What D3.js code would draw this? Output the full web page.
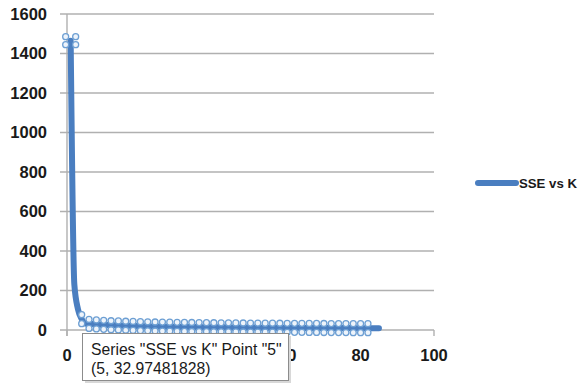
<!DOCTYPE html>
<html>
<head>
<meta charset="utf-8">
<script src="https://cdn.jsdelivr.net/npm/d3@7/dist/d3.min.js"></script>
<style>
  html, body { margin: 0; padding: 0; background: #ffffff; }
  svg { display: block; }
</style>
</head>
<body>
<svg id="chart" width="584" height="384"></svg>
<script>
// Number of clusters K and the sum of squared errors for each
const kValues = [
  1, 2, 3, 4, 5, 6, 7, 8, 9, 10,
  11, 12, 13, 14, 15, 16, 17, 18, 19, 20,
  21, 22, 23, 24, 25, 26, 27, 28, 29, 30,
  31, 32, 33, 34, 35, 36, 37, 38, 39, 40,
  41, 42, 43, 44, 45, 46, 47, 48, 49, 50,
  51, 52, 53, 54, 55, 56, 57, 58, 59, 60,
  61, 62, 63, 64, 65, 66, 67, 68, 69, 70,
  71, 72, 73, 74, 75, 76, 77, 78, 79, 80,
  81, 82, 83, 84, 85
];
const sseValues = [
  1465, 230, 105, 55, 32.97481828, 31, 30, 28, 27, 26,
  25, 24, 23.5, 23, 22, 21.5, 21, 20.5, 20, 19.5,
  19, 18.6, 18.2, 17.8, 17.5, 17.2, 16.9, 16.6, 16.3, 16,
  15.8, 15.5, 15.3, 15.1, 14.9, 14.7, 14.5, 14.3, 14.1, 13.9,
  13.8, 13.6, 13.4, 13.3, 13.1, 13, 12.8, 12.7, 12.5, 12.4,
  12.3, 12.1, 12, 11.9, 11.8, 11.6, 11.5, 11.4, 11.3, 11.2,
  11.1, 11, 10.9, 10.8, 10.7, 10.6, 10.5, 10.4, 10.3, 10.2,
  10.1, 10, 9.9, 9.8, 9.7, 9.6, 9.5, 9.4, 9.3, 9.2,
  9.1, 9, 8.9, 8.8, 8.7
];
const seriesName = "SSE vs K";
const xTicks = [0, 20, 40, 60, 80, 100];
const yTicks = [0, 200, 400, 600, 800, 1000, 1200, 1400, 1600];
// Points that carry selection handles
const handleK = [1, 4, 6, 8, 10, 12, 14, 16, 18, 20, 22, 24, 26, 28, 30, 32, 34, 36, 38, 40,
  42, 44, 46, 48, 50, 52, 54, 56, 58, 60, 62, 64, 66, 68, 70, 72, 74, 76, 78, 80, 82];
const tipPoint = 5;

const data = kValues.map((k, i) => ({ k, v: sseValues[i] }));

const svg = d3.select("#chart");
const x = d3.scaleLinear().domain([0, 100]).range([67, 434]);
const y = d3.scaleLinear().domain([0, 1600]).range([330, 14]);

const gridColor = "#b0b0b0";
const lineColor = "#4a7ec0";
const labelFont = "'Liberation Sans', Arial, sans-serif";

// Data tip box (drawn last, but its extent is needed to skip covered labels)
const tipBox = { x: 82.5, y: 333.5, w: 206, h: 47 };

// Horizontal gridlines (with short ticks to the left of the axis)
svg.append("g")
  .selectAll("line")
  .data(yTicks)
  .join("line")
  .attr("x1", x(0) - 7)
  .attr("x2", x(100))
  .attr("y1", d => y(d))
  .attr("y2", d => y(d))
  .attr("stroke", gridColor)
  .attr("stroke-width", 1.4);

// Vertical axis line
svg.append("line")
  .attr("x1", x(0)).attr("x2", x(0))
  .attr("y1", y(1600)).attr("y2", y(0) + 6)
  .attr("stroke", gridColor)
  .attr("stroke-width", 1.4);

// X axis tick marks
svg.append("g")
  .selectAll("line")
  .data(xTicks)
  .join("line")
  .attr("x1", d => x(d)).attr("x2", d => x(d))
  .attr("y1", y(0)).attr("y2", y(0) + 6)
  .attr("stroke", gridColor)
  .attr("stroke-width", 1.4);

// Y tick labels
svg.append("g")
  .selectAll("text")
  .data(yTicks)
  .join("text")
  .attr("x", 47)
  .attr("y", d => y(d))
  .attr("dy", "0.36em")
  .attr("text-anchor", "end")
  .attr("font-family", labelFont)
  .attr("font-weight", "bold")
  .attr("font-size", 16.5)
  .attr("fill", "#1a1a1a")
  .text(d => d);

// X tick labels; those lying under the data tip are hidden by it
const visibleXLabels = xTicks.filter(d => {
  const cx = x(d);
  return cx < tipBox.x || cx > tipBox.x + tipBox.w;
});
svg.append("g")
  .selectAll("text")
  .data(visibleXLabels)
  .join("text")
  .attr("x", d => x(d))
  .attr("y", 361)
  .attr("text-anchor", "middle")
  .attr("font-family", labelFont)
  .attr("font-weight", "bold")
  .attr("font-size", 16.5)
  .attr("fill", "#1a1a1a")
  .text(d => d);

// A label straddling the tip's right edge only shows the part outside it
svg.append("defs").append("clipPath").attr("id", "peek")
  .append("rect")
  .attr("x", tipBox.x + tipBox.w + 1).attr("y", 340)
  .attr("width", 30).attr("height", 30);
svg.append("g")
  .attr("clip-path", "url(#peek)")
  .selectAll("text")
  .data(xTicks.filter(d => x(d) <= tipBox.x + tipBox.w && x(d) > tipBox.x + tipBox.w - 12))
  .join("text")
  .attr("x", d => x(d))
  .attr("y", 361)
  .attr("text-anchor", "middle")
  .attr("font-family", labelFont)
  .attr("font-weight", "bold")
  .attr("font-size", 16.5)
  .attr("fill", "#1a1a1a")
  .text(d => d);

// Series line
const line = d3.line()
  .x(d => x(d.k))
  .y(d => y(d.v))
  .curve(d3.curveMonotoneX);

svg.append("path")
  .datum(data)
  .attr("d", line)
  .attr("fill", "none")
  .attr("stroke", lineColor)
  .attr("stroke-width", 6)
  .attr("stroke-linecap", "round")
  .attr("stroke-linejoin", "round");

// Selection handles around the selected series points
const handleData = [];
handleK.forEach(k => {
  const d = data.find(p => p.k === k);
  const offsets = k === 1
    ? [[-5, -4], [5, -4], [-5, 4], [5, 4]]
    : [[0, -4.5], [0, 4.5]];
  offsets.forEach(o => handleData.push({ d, o }));
});

svg.append("g")
  .selectAll("circle")
  .data(handleData)
  .join("circle")
  .attr("cx", h => x(h.d.k) + h.o[0])
  .attr("cy", h => y(h.d.v) + h.o[1])
  .attr("r", 3)
  .attr("fill", "#eef4fb")
  .attr("stroke", "#6d9fd3")
  .attr("stroke-width", 1.3);

// Legend
const legend = svg.append("g");
legend.append("line")
  .attr("x1", 478).attr("x2", 516)
  .attr("y1", 183).attr("y2", 183)
  .attr("stroke", lineColor)
  .attr("stroke-width", 6)
  .attr("stroke-linecap", "round");
legend.append("text")
  .attr("x", 519)
  .attr("y", 188)
  .attr("font-family", labelFont)
  .attr("font-weight", "bold")
  .attr("font-size", 13.2)
  .attr("fill", "#1a1a1a")
  .text(seriesName);

// Data tip for the hovered point
const tipDatum = data.find(p => p.k === tipPoint);
const tip = svg.append("g");
tip.append("rect")
  .attr("x", tipBox.x + 2.5).attr("y", tipBox.y + 2.5)
  .attr("width", tipBox.w).attr("height", tipBox.h)
  .attr("fill", "#d8d8d8");
tip.append("rect")
  .attr("x", tipBox.x).attr("y", tipBox.y)
  .attr("width", tipBox.w).attr("height", tipBox.h)
  .attr("fill", "#ffffff")
  .attr("stroke", "#8c8c8c")
  .attr("stroke-width", 1);
const tipText = tip.append("text")
  .attr("font-family", labelFont)
  .attr("font-size", 15.7)
  .attr("fill", "#1a1a1a");
tipText.append("tspan")
  .attr("x", 91).attr("y", 355)
  .text(`Series "${seriesName}" Point "${tipPoint}"`);
tipText.append("tspan")
  .attr("x", 91).attr("y", 374)
  .text(`(${tipDatum.k}, ${tipDatum.v})`);
</script>
</body>
</html>
